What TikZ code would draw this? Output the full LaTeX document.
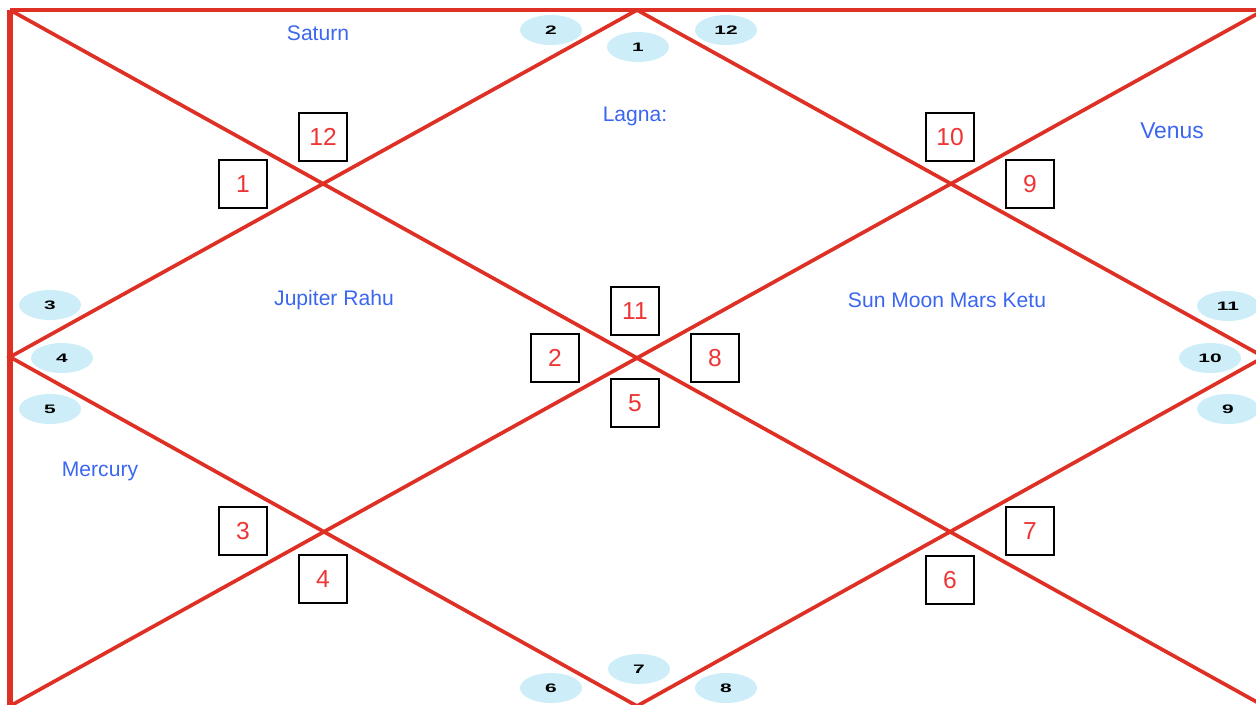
\documentclass[tikz,border=0pt]{standalone}
\usepackage{fontspec}
\setmainfont{Liberation Sans}
\usetikzlibrary{shapes.geometric}

\definecolor{chartred}{RGB}{222,48,36}
\definecolor{numred}{RGB}{238,52,52}
\definecolor{planetblue}{RGB}{58,102,240}
\definecolor{signblue}{RGB}{205,238,249}
\newcommand{\widenum}[1]{\scalebox{1.7}[1]{\textbf{#1}}}

\begin{document}
\begin{tikzpicture}[x = 0.02cm, y = -0.02cm]
    \tikzset{
        chartline/.style={draw=chartred, line width=2.1pt, line join=miter},
        house/.style={draw=black, line width=0.6pt, minimum size=0.96cm, inner sep=0pt,
            text=numred, font=\fontsize{14}{16}\selectfont},
        sign/.style={ellipse, fill=signblue, minimum width=1.24cm, minimum height=0.6cm,
            inner sep=0pt, font=\fontsize{7}{8}\selectfont},
        planet/.style={text=planetblue, font=\fontsize{12}{14}\selectfont}
    }
    \clip (0,0) rectangle (1256,704);

    % frame corners and midpoints
    \coordinate (tl) at (10,10);
    \coordinate (tr) at (1264,10);
    \coordinate (bl) at (10,706);
    \coordinate (br) at (1264,706);
    \coordinate (tm) at (637,10);
    \coordinate (lm) at (10,357);
    \coordinate (rm) at (1264,357);
    \coordinate (bm) at (637,706);

    \draw [chartline] (tl) -- (tr);
    \draw [chartline, line width=3.4pt] (tl) -- (bl);
    \draw [chartline] (tl) -- (br);
    \draw [chartline] (bl) -- (tr);
    \draw [chartline] (tm) -- (lm) -- (bm) -- (rm) -- cycle;

    % house numbers
    \node [house] (h12) at (323,137) {12};
    \node [house] (h1)  at (243,184) {1};
    \node [house] (h10) at (950,137) {10};
    \node [house] (h9)  at (1030,184) {9};
    \node [house] (h11) at (635,311) {11};
    \node [house] (h2)  at (555,358) {2};
    \node [house] (h8)  at (715,358) {8};
    \node [house] (h5)  at (635,403) {5};
    \node [house] (h3)  at (243,531) {3};
    \node [house] (h4)  at (323,579) {4};
    \node [house] (h7)  at (1030,531) {7};
    \node [house] (h6)  at (950,580) {6};

    % sign numbers
    \node [sign] (s2)  at (551,30)   {\widenum{2}};
    \node [sign] (s1)  at (638,47)   {\widenum{1}};
    \node [sign] (s12) at (726,30)   {\widenum{12}};
    \node [sign] (s3)  at (50,305)   {\widenum{3}};
    \node [sign] (s4)  at (62,358)   {\widenum{4}};
    \node [sign] (s5)  at (50,409)   {\widenum{5}};
    \node [sign] (s11) at (1228,306) {\widenum{11}};
    \node [sign] (s10) at (1210,358) {\widenum{10}};
    \node [sign] (s9)  at (1228,409) {\widenum{9}};
    \node [sign] (s6)  at (551,688)  {\widenum{6}};
    \node [sign] (s7)  at (639,669)  {\widenum{7}};
    \node [sign] (s8)  at (726,688)  {\widenum{8}};

    % planets
    \node [planet] (saturn)  at (318,33)  {Saturn};
    \node [planet] (lagna)   at (635,116) {Lagna:};
    \node [planet, font=\fontsize{13}{15}\selectfont] (venus) at (1172,131) {Venus};
    \node [planet] (jupiter) at (334,300) {Jupiter Rahu};
    \node [planet] (sun)     at (947,300) {Sun Moon Mars Ketu};
    \node [planet] (mercury) at (100,471) {Mercury};
\end{tikzpicture}
\end{document}
